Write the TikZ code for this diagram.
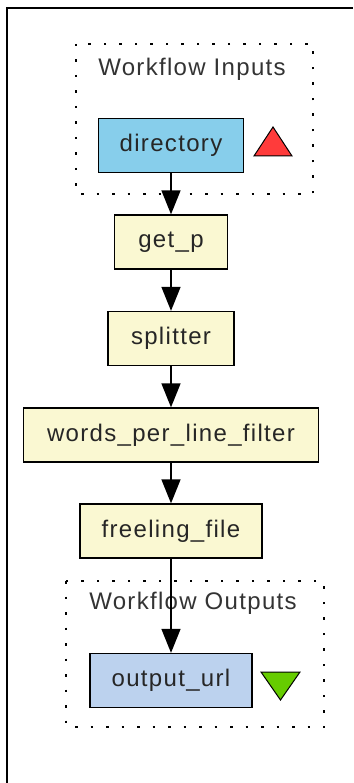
\documentclass[tikz,border=0pt]{standalone}
\usepackage{fontspec}
\setmainfont{Liberation Sans}[LetterSpace=5.5]
\usetikzlibrary{arrows.meta, positioning}
\definecolor{procfill}{HTML}{FAF8D2}
\definecolor{infill}{HTML}{87CEEB}
\definecolor{outfill}{HTML}{BCD2EE}
\definecolor{upred}{HTML}{FF3B3B}
\definecolor{downgreen}{HTML}{66CC00}

\begin{document}
\begin{tikzpicture}[x=1pt, y=-1pt, >={Triangle[length=24pt, width=19pt]},
    box/.style={draw, line width=1.3pt, minimum height=54pt, inner sep=0pt, text=black!85, font=\fontsize{24}{26}\selectfont},
    proc/.style={box, fill=procfill},
    group/.style={draw, line width=1.6pt, dash pattern=on 2.5pt off 13pt},
    grouplabel/.style={text=black!80, font=\fontsize{24}{26}\selectfont},
    flow/.style={->, line width=1.5pt}]
  \useasboundingbox (0,0) rectangle (353,783);
  % Frame
  \draw[line width=2.5pt] (7,783) -- (7,8) -- (353,8);
  % Workflow inputs
  \draw[group] (76,44) rectangle (313,194);
  \node[grouplabel] (inlabel) at (192,69) {Workflow Inputs};
  \node[box, fill=infill, minimum width=145pt] (directory) at (171,145.5) {directory};
  \draw[line width=1pt, fill=upred] (254,156) -- (292,156) -- (273,127) -- cycle;
  % Processors
  \node[proc, minimum width=113pt] (get_p) at (171,242) {get\_p};
  \node[proc, minimum width=126pt] (splitter) at (171,338.5) {splitter};
  \node[proc, minimum width=295pt] (wplf) at (171,435) {words\_per\_line\_filter};
  \node[proc, minimum width=182pt] (freeling) at (171,531) {freeling\_file};
  % Workflow outputs
  \draw[group] (66,581) rectangle (324,727);
  \node[grouplabel] (outlabel) at (193,603) {Workflow Outputs};
  \node[box, fill=outfill, minimum width=162pt] (output_url) at (171,680.5) {output\_url};
  \draw[line width=1pt, fill=downgreen] (261,672) -- (300,672) -- (280.5,700) -- cycle;
  % Links
  \draw[flow] (directory) -- (get_p);
  \draw[flow] (get_p) -- (splitter);
  \draw[flow] (splitter) -- (wplf);
  \draw[flow] (wplf) -- (freeling);
  \draw[flow] (freeling) -- (output_url);
\end{tikzpicture}
\end{document}
